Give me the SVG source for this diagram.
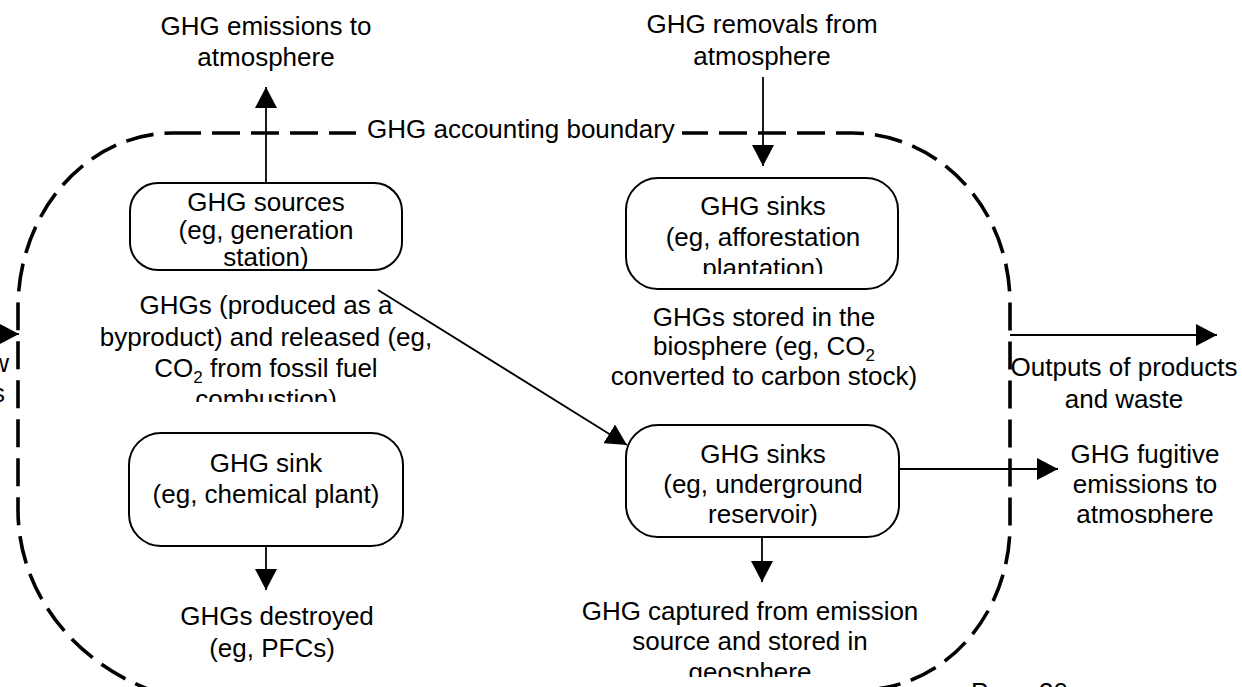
<svg xmlns="http://www.w3.org/2000/svg" width="1242" height="687" viewBox="0 0 1242 687">
  <defs>
    <style>
      text { font-family: "Liberation Sans", Arial, sans-serif; font-size: 26px; fill: #000; }
      .c { text-anchor: middle; }
      .box { fill: #fff; stroke: #000; stroke-width: 2; }
      .flow { fill: none; stroke: #000; stroke-width: 1.8; marker-end: url(#head); }
      .boundary { fill: none; stroke: #000; stroke-width: 3.6; stroke-dasharray: 28 11; }
      .sub { font-size: 17px; }
    </style>
    <marker id="head" markerUnits="userSpaceOnUse" markerWidth="21" markerHeight="22" refX="21" refY="11" orient="auto">
      <path d="M0,0 L21,11 L0,22 Z" fill="#000"/>
    </marker>
    <clipPath id="clipSources"><rect x="0" y="0" width="1242" height="402"/></clipPath>
    <clipPath id="clipAfforest"><rect x="0" y="0" width="1242" height="274"/></clipPath>
    <clipPath id="clipUnderground"><rect x="0" y="0" width="1242" height="526"/></clipPath>
    <clipPath id="clipGeo"><rect x="0" y="0" width="1242" height="677"/></clipPath>
    <clipPath id="clipFugitive"><rect x="0" y="0" width="1242" height="523"/></clipPath>
  </defs>

  <rect width="1242" height="687" fill="#fff"/>

  <!-- accounting boundary (dashed) -->
  <g id="boundary">
    <path class="boundary" d="M 173 133 H 852 A 158 170 0 0 1 1010 303 V 525 A 150 165 0 0 1 860 690 L 233 705 A 215 195 0 0 1 18 510 V 308 A 155 175 0 0 1 173 133 Z"/>
    <rect x="356" y="116" width="326" height="30" fill="#fff"/>
    <text x="367" y="138">GHG accounting boundary</text>
  </g>

  <!-- connectors -->
  <g id="connectors">
    <path class="flow" d="M 266 183 V 87"/>
    <path class="flow" d="M 763 77 V 166"/>
    <path class="flow" d="M 378 290 L 627 445"/>
    <path class="flow" d="M 266 546 V 590"/>
    <path class="flow" d="M 762 537 V 582"/>
    <path class="flow" d="M 899 469 H 1058"/>
    <path class="flow" d="M 1010 335 H 1217"/>
    <path class="flow" d="M -10 334 H 19"/>
  </g>

  <!-- process nodes -->
  <g id="node-sources">
    <rect class="box" x="130" y="183" width="272" height="87" rx="28"/>
    <text class="c" x="266" y="211">GHG sources</text>
    <text class="c" x="266" y="239">(eg, generation</text>
    <text class="c" x="266" y="266">station)</text>
  </g>

  <g id="node-afforestation">
    <rect class="box" x="626" y="178" width="272" height="111" rx="32"/>
    <text class="c" x="763" y="215">GHG sinks</text>
    <text class="c" x="763" y="246">(eg, afforestation</text>
    <text class="c" x="763" y="277" clip-path="url(#clipAfforest)">plantation)</text>
  </g>

  <g id="node-chemical">
    <rect class="box" x="129" y="433" width="274" height="113" rx="32"/>
    <text class="c" x="266" y="472">GHG sink</text>
    <text class="c" x="266" y="503">(eg, chemical plant)</text>
  </g>

  <g id="node-underground">
    <rect class="box" x="626" y="425" width="273" height="112" rx="32"/>
    <text class="c" x="763" y="463">GHG sinks</text>
    <text class="c" x="763" y="493">(eg, underground</text>
    <text class="c" x="763" y="523" clip-path="url(#clipUnderground)">reservoir)</text>
  </g>

  <!-- flow labels -->
  <g id="label-emissions">
    <text class="c" x="266" y="35">GHG emissions to</text>
    <text class="c" x="266" y="66">atmosphere</text>
  </g>

  <g id="label-removals">
    <text class="c" x="762" y="33">GHG removals from</text>
    <text class="c" x="762" y="65">atmosphere</text>
  </g>

  <g id="label-byproduct" clip-path="url(#clipSources)">
    <text class="c" x="266" y="314">GHGs (produced as a</text>
    <text class="c" x="266" y="346">byproduct) and released (eg,</text>
    <text class="c" x="266" y="377">CO<tspan class="sub" dy="6">2</tspan><tspan dy="-6"> from fossil fuel</tspan></text>
    <text class="c" x="266" y="408">combustion)</text>
  </g>

  <g id="label-biosphere">
    <text class="c" x="764" y="326">GHGs stored in the</text>
    <text class="c" x="764" y="355">biosphere (eg, CO<tspan class="sub" dy="6">2</tspan></text>
    <text class="c" x="764" y="385">converted to carbon stock)</text>
  </g>

  <g id="label-destroyed">
    <text class="c" x="277" y="625">GHGs destroyed</text>
    <text class="c" x="272" y="657">(eg, PFCs)</text>
  </g>

  <g id="label-geosphere" clip-path="url(#clipGeo)">
    <text class="c" x="750" y="620">GHG captured from emission</text>
    <text class="c" x="750" y="650">source and stored in</text>
    <text class="c" x="750" y="681">geosphere</text>
  </g>

  <g id="label-outputs">
    <text class="c" x="1124" y="376">Outputs of products</text>
    <text class="c" x="1124" y="408">and waste</text>
  </g>

  <g id="label-fugitive" clip-path="url(#clipFugitive)">
    <text class="c" x="1145" y="463">GHG fugitive</text>
    <text class="c" x="1145" y="493">emissions to</text>
    <text class="c" x="1145" y="523">atmosphere</text>
  </g>

  <g id="label-inputs">
    <text x="9" y="372" text-anchor="end">w</text>
    <text x="5" y="402" text-anchor="end">s</text>
  </g>

  <text x="971" y="701">Page 30</text>
</svg>
